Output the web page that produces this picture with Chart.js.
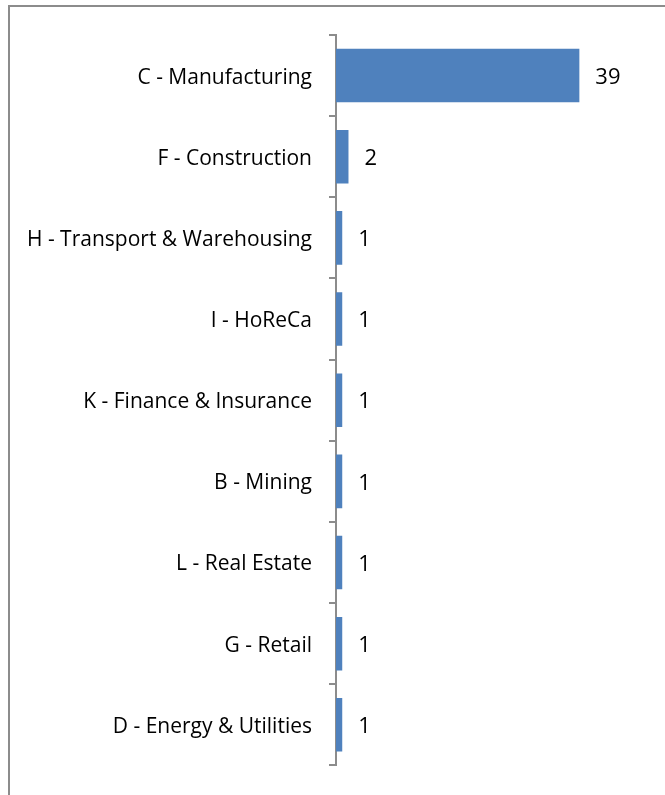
<!DOCTYPE html>
<html><head><meta charset="utf-8">
<script src="https://cdn.jsdelivr.net/npm/chart.js@4"></script>
<style>
html,body{margin:0;padding:0;overflow:hidden;background:#fff;width:665px;height:795px;}
#frame{position:absolute;left:8px;top:5px;width:700px;height:830px;border:2px solid #8c8c8c;box-sizing:border-box;}
#wrap{position:absolute;left:0;top:0;width:665px;height:795px;}
</style></head>
<body>
<div id="frame"></div>
<div id="wrap"><canvas id="c" width="665" height="795"></canvas></div>
<script>
const categories = ["C - Manufacturing","F - Construction","H - Transport & Warehousing","I - HoReCa","K - Finance & Insurance","B - Mining","L - Real Estate","G - Retail","D - Energy & Utilities"];
const values = [39,2,1,1,1,1,1,1,1];

const FONT = "'Open Sans', sans-serif";
const labelPlugin = {
  id:'barLabels',
  afterDatasetsDraw(chart){
    const ctx = chart.ctx;
    const meta = chart.getDatasetMeta(0);
    ctx.save();
    ctx.font = "22px " + FONT;
    ctx.fillStyle = "#000";
    ctx.textAlign = "left";
    ctx.textBaseline = "middle";
    meta.data.forEach((bar,i)=>{
      ctx.fillText(String(values[i]), bar.x + 16, bar.y + 2);
    });
    ctx.restore();
  }
};

new Chart(document.getElementById('c'), {
  type:'bar',
  data:{labels:categories, datasets:[{data:values, backgroundColor:'#4F81BD', borderColor:'#4F81BD', borderWidth:0, categoryPercentage:1, barPercentage:0.66}]},
  options:{
    indexAxis:'y',
    responsive:false,
    animation:false,
    layout:{padding:{top:35,bottom:27,right:17,left:0}},
    plugins:{legend:{display:false},tooltip:{enabled:false}},
    scales:{
      x:{display:false,min:0,max:50},
      y:{
        afterFit(s){ s.width = 336; },
        grid:{drawOnChartArea:false,tickLength:7,color:'#8c8c8c',lineWidth:2,offset:true},
        border:{display:true,color:'#8c8c8c',width:2},
        ticks:{color:'#000',padding:17,labelOffset:2,font:{family:FONT,size:21}}
      }
    }
  },
  plugins:[labelPlugin]
});
</script>
</body></html>
